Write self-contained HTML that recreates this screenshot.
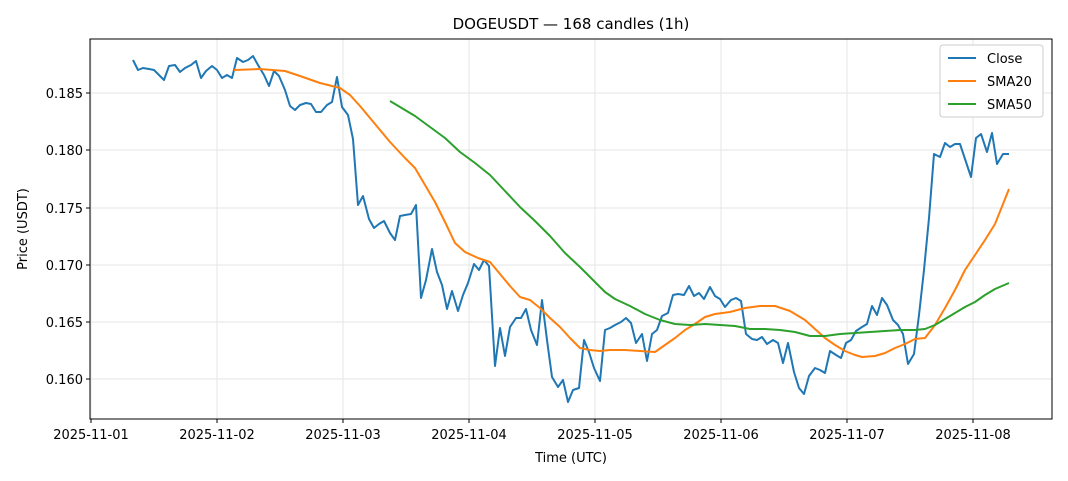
<!DOCTYPE html>
<html><head><meta charset="utf-8"><style>body{margin:0;background:#fff}svg{display:block}text{font-family:"DejaVu Sans","Liberation Sans",sans-serif;fill:#000}</style></head><body>
<svg width="1068" height="481" viewBox="0 0 1068 481" xmlns="http://www.w3.org/2000/svg">
<rect width="1068" height="481" fill="#fff"/>
<text x="571" y="29" font-size="15" text-anchor="middle">DOGEUSDT — 168 candles (1h)</text>
<g stroke="#e6e6e6" stroke-width="1">
<line x1="90" y1="93" x2="1052" y2="93"/><line x1="90" y1="150" x2="1052" y2="150"/><line x1="90" y1="208" x2="1052" y2="208"/><line x1="90" y1="265" x2="1052" y2="265"/><line x1="90" y1="322" x2="1052" y2="322"/><line x1="90" y1="379" x2="1052" y2="379"/>
<line x1="91" y1="39" x2="91" y2="419"/><line x1="217" y1="39" x2="217" y2="419"/><line x1="343" y1="39" x2="343" y2="419"/><line x1="469" y1="39" x2="469" y2="419"/><line x1="595" y1="39" x2="595" y2="419"/><line x1="721" y1="39" x2="721" y2="419"/><line x1="847" y1="39" x2="847" y2="419"/><line x1="973" y1="39" x2="973" y2="419"/>
</g>
<polyline fill="none" stroke="#1f77b4" stroke-width="2" stroke-linejoin="round" points="133,60 138,70 143,68 149,69 154,70 159,75 164,80 169,66 175,65 180,72 185,68 191,65 196,61 201,78 206,71 212,66 217,70 222,78 227,75 232,78 237,58 243,62 248,60 253,56 258,65 264,75 269,86 274,71 279,76 285,90 290,106 295,110 300,105 306,103 311,104 316,112 321,112 327,105 332,102 337,77 342,107 348,115 353,139 358,205 363,196 369,219 374,228 379,224 384,221 390,233 395,240 400,216 405,215 411,214 416,205 421,298 426,280 432,249 437,272 442,285 447,309 452,291 458,311 463,295 468,283 474,264 479,270 484,260 489,266 495,366 500,328 505,356 510,327 516,318 521,318 526,309 531,330 537,345 542,300 547,340 552,377 558,387 563,380 568,402 573,390 579,388 584,340 589,352 594,368 600,381 605,330 610,328 615,325 621,322 626,318 631,323 636,343 642,334 647,361 652,334 657,330 662,316 668,313 673,295 678,294 684,295 689,286 694,296 699,293 704,299 710,287 715,296 720,299 725,307 731,300 736,298 741,301 746,334 752,339 757,340 762,337 767,344 773,340 778,343 783,363 788,343 794,372 799,388 804,394 809,376 815,368 820,370 825,373 830,351 836,355 841,358 846,343 851,340 856,331 862,327 867,324 872,306 877,315 882,298 887,305 893,320 898,325 903,334 908,364 914,354 919,315 924,270 929,218 934,154 940,157 945,143 950,147 955,144 960,144 966,162 971,177 976,138 981,134 987,152 992,133 997,164 1003,154 1009,154"/>
<polyline fill="none" stroke="#ff7f0e" stroke-width="2" stroke-linejoin="round" points="234,70 260,69 285,71 300,76 320,83 340,88 350,95 360,106 375,124 390,142 405,158 415,168 425,185 435,202 445,222 455,243 465,252 478,258 490,262 500,274 510,286 520,297 530,300 540,308 550,318 560,327 570,338 580,348 590,350 600,351 610,350 625,350 640,351 655,352 665,345 675,338 685,330 695,324 705,317 715,314 730,312 745,308 760,306 775,306 790,311 805,320 815,329 825,338 835,345 845,351 855,355 862,357 875,356 885,353 895,348 905,344 915,339 925,338 935,325 945,308 955,290 965,270 975,255 985,240 995,224 1009,189"/>
<polyline fill="none" stroke="#2ca02c" stroke-width="2" stroke-linejoin="round" points="390,101 400,107 415,116 430,127 445,138 460,152 475,163 490,175 505,191 520,207 535,221 550,236 565,253 580,267 595,282 605,292 615,299 630,306 645,314 660,320 675,324 690,325 705,324 720,325 735,326 750,329 765,329 780,330 795,332 810,336 825,336 840,334 855,333 870,332 885,331 900,330 915,330 925,329 935,325 945,319 955,313 965,307 975,302 985,295 995,289 1009,283"/>
<rect x="90" y="39" width="962" height="380" fill="none" stroke="#000" stroke-width="1"/>
<g stroke="#000"><line x1="91" y1="419" x2="91" y2="423"/><line x1="217" y1="419" x2="217" y2="423"/><line x1="343" y1="419" x2="343" y2="423"/><line x1="469" y1="419" x2="469" y2="423"/><line x1="595" y1="419" x2="595" y2="423"/><line x1="721" y1="419" x2="721" y2="423"/><line x1="847" y1="419" x2="847" y2="423"/><line x1="973" y1="419" x2="973" y2="423"/>
<line x1="86" y1="93" x2="90" y2="93"/><line x1="86" y1="150" x2="90" y2="150"/><line x1="86" y1="208" x2="90" y2="208"/><line x1="86" y1="265" x2="90" y2="265"/><line x1="86" y1="322" x2="90" y2="322"/><line x1="86" y1="379" x2="90" y2="379"/></g>
<g font-size="13" text-anchor="middle"><text x="91" y="439">2025-11-01</text><text x="217" y="439">2025-11-02</text><text x="343" y="439">2025-11-03</text><text x="469" y="439">2025-11-04</text><text x="595" y="439">2025-11-05</text><text x="721" y="439">2025-11-06</text><text x="847" y="439">2025-11-07</text><text x="973" y="439">2025-11-08</text></g>
<g font-size="13" text-anchor="end"><text x="83" y="98">0.185</text><text x="83" y="155">0.180</text><text x="83" y="213">0.175</text><text x="83" y="270">0.170</text><text x="83" y="327">0.165</text><text x="83" y="384">0.160</text></g>
<text x="571" y="462" font-size="13" text-anchor="middle">Time (UTC)</text>
<text x="27" y="229" font-size="13" text-anchor="middle" transform="rotate(-90 27 229)">Price (USDT)</text>
<rect x="940" y="45" width="103" height="72" rx="3" fill="#fff" stroke="#ccc"/>
<line x1="948" y1="58" x2="976" y2="58" stroke="#1f77b4" stroke-width="2"/><text x="987" y="63" font-size="13">Close</text>
<line x1="948" y1="81" x2="976" y2="81" stroke="#ff7f0e" stroke-width="2"/><text x="987" y="86" font-size="13">SMA20</text>
<line x1="948" y1="104" x2="976" y2="104" stroke="#2ca02c" stroke-width="2"/><text x="987" y="109" font-size="13">SMA50</text>
</svg></body></html>
